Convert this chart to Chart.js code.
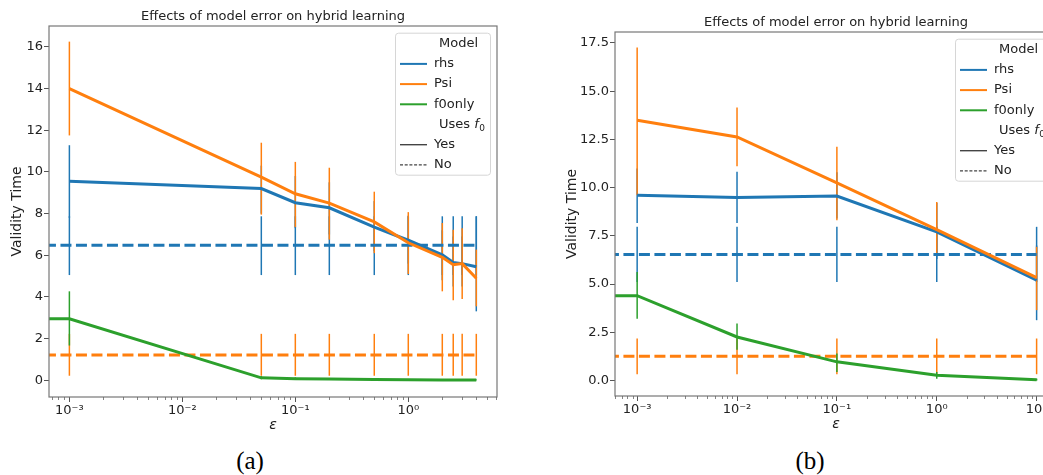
<!DOCTYPE html>
<html>
<head>
<meta charset="utf-8">
<script src="https://cdn.jsdelivr.net/npm/chart.js@4.4.0/dist/chart.umd.min.js"></script>
<style>
  html, body { margin: 0; padding: 0; background: #fff; overflow: hidden; width: 1043px; height: 475px; }
  .wrap { position: absolute; top: 0; width: 520px; height: 440px; }
  .cap { position: absolute; top: 447px; font-family: "Liberation Serif", "DejaVu Serif", serif; font-size: 25px; color: #000; transform: translateX(-50%); white-space: nowrap; }
</style>
</head>
<body>
<div class="wrap" style="left:0"><canvas id="chartA" width="520" height="440"></canvas></div>
<div class="wrap" style="left:560px"><canvas id="chartB" width="520" height="440"></canvas></div>
<div class="cap" style="left:250px">(a)</div>
<div class="cap" style="left:810px">(b)</div>
<script>
// eps = 0 can't sit on a log axis, it is pushed off the left edge (like matplotlib clipping)
const EPS_ZERO = 1e-5;

// ---- panel (a) ----
const epsA = [0.001, 0.05, 0.1, 0.2, 0.5, 1, 2, 2.5, 3, 4];
const rhsA = [9.55, 9.2, 8.52, 8.28, 7.35, 6.72, 6.02, 5.65, 5.6, 5.45];
const rhsLoA = [7.8, 8.0, 7.3, 7.0, 6.2, 5.6, 4.8, 4.5, 4.5, 3.31];
const rhsHiA = [11.28, 10.3, 9.8, 9.5, 8.6, 7.9, 7.2, 6.9, 6.9, 7.87];
const psiA = [14.0, 9.75, 8.95, 8.5, 7.6, 6.6, 5.9, 5.55, 5.6, 4.9];
const psiLoA = [11.75, 7.95, 7.35, 6.75, 6.1, 5.1, 4.27, 3.84, 3.9, 3.55];
const psiHiA = [16.25, 11.4, 10.48, 10.2, 9.05, 8.07, 7.55, 7.23, 7.3, 6.27];
const epsNoA = [0, 0.001, 0.05, 0.1, 0.2, 0.5, 1, 2, 2.5, 3, 4];
const f0A = [2.95, 2.95, 0.12, 0.08, 0.06, 0.04, 0.03, 0.02, 0.02, 0.02, 0.01];
const f0LoA = [1.67, 1.67, 0.05, 0.03, 0.02, 0.01, 0.0, 0.0, 0.0, 0.0, 0.0];
const f0HiA = [4.27, 4.27, 0.2, 0.14, 0.11, 0.08, 0.06, 0.05, 0.05, 0.05, 0.04];
const rhsNoA = [6.48, 6.48, 6.48, 6.48, 6.48, 6.48, 6.48, 6.48, 6.48, 6.48, 6.48];
const rhsNoLoA = [5.05, 5.05, 5.05, 5.05, 5.05, 5.05, 5.05, 5.05, 5.05, 5.05, 5.05];
const rhsNoHiA = [7.87, 7.87, 7.87, 7.87, 7.87, 7.87, 7.87, 7.87, 7.87, 7.87, 7.87];
const psiNoA = [1.22, 1.22, 1.22, 1.22, 1.22, 1.22, 1.22, 1.22, 1.22, 1.22, 1.22];
const psiNoLoA = [0.22, 0.22, 0.22, 0.22, 0.22, 0.22, 0.22, 0.22, 0.22, 0.22, 0.22];
const psiNoHiA = [2.23, 2.23, 2.23, 2.23, 2.23, 2.23, 2.23, 2.23, 2.23, 2.23, 2.23];

// ---- panel (b) ----
const epsB = [0.001, 0.01, 0.1, 1, 10];
const rhsB = [9.61, 9.49, 9.57, 7.71, 5.2];
const rhsLoB = [8.17, 8.17, 8.4, 6.3, 3.13];
const rhsHiB = [11.0, 10.82, 10.8, 9.2, 7.0];
const psiB = [13.5, 12.63, 10.25, 7.83, 5.34];
const psiLoB = [9.61, 11.11, 8.31, 6.6, 3.65];
const psiHiB = [17.27, 14.16, 12.12, 9.26, 6.93];
const epsNoB = [0, 0.001, 0.01, 0.1, 1, 10];
const f0B = [4.4, 4.4, 2.26, 0.97, 0.27, 0.04];
const f0LoB = [3.2, 3.2, 1.6, 0.45, 0.1, 0.0];
const f0HiB = [5.63, 5.63, 2.96, 1.4, 0.45, 0.1];
const rhsNoB = [6.53, 6.53, 6.53, 6.53, 6.53, 6.53];
const rhsNoLoB = [5.11, 5.11, 5.11, 5.11, 5.11, 5.11];
const rhsNoHiB = [7.97, 7.97, 7.97, 7.97, 7.97, 7.97];
const psiNoB = [1.26, 1.26, 1.26, 1.26, 1.26, 1.26];
const psiNoLoB = [0.33, 0.33, 0.33, 0.33, 0.33, 0.33];
const psiNoHiB = [2.18, 2.18, 2.18, 2.18, 2.18, 2.18];

const TITLE = 'Effects of model error on hybrid learning';
const BLUE = '#1f77b4', ORANGE = '#ff7f0e', GREEN = '#2ca02c';
const FONT = '"DejaVu Sans", sans-serif';

const SUP = { '-': '\u207B', '0': '\u2070', '1': '\u00B9', '2': '\u00B2', '3': '\u00B3', '4': '\u2074' };

function isPow10(v) {
  const l = Math.log10(v);
  return Math.abs(l - Math.round(l)) < 1e-9;
}

function pts(xs, ys) {
  return xs.map((x, i) => ({ x: x === 0 ? EPS_ZERO : x, y: ys[i] }));
}

// vertical error bars drawn under the lines
const errorBars = {
  id: 'errorBars',
  beforeDatasetsDraw(chart) {
    const { ctx, chartArea: a, scales: { x, y } } = chart;
    ctx.save();
    ctx.beginPath();
    ctx.rect(a.left, a.top, a.right - a.left, a.bottom - a.top);
    ctx.clip();
    ctx.lineWidth = 1.5;
    chart.data.datasets.forEach(ds => {
      if (!ds.errLo) return;
      ctx.strokeStyle = ds.borderColor;
      ds.data.forEach((p, i) => {
        const px = x.getPixelForValue(p.x);
        ctx.beginPath();
        ctx.moveTo(px, y.getPixelForValue(ds.errLo[i]));
        ctx.lineTo(px, y.getPixelForValue(ds.errHi[i]));
        ctx.stroke();
      });
    });
    ctx.restore();
  }
};

function drawLegend(ctx, a) {
  const w = 95, h = 142;
  const left = a.right - 102, top = a.top + 6.7;
  ctx.save();
  ctx.fillStyle = 'rgba(255,255,255,0.85)';
  ctx.strokeStyle = '#d6d6d6';
  ctx.lineWidth = 1;
  ctx.beginPath();
  ctx.roundRect(left + 0.5, top + 0.5, w, h, 3);
  ctx.fill();
  ctx.stroke();

  const rows = [
    { label: 'Model', header: true },
    { label: 'rhs', color: BLUE, width: 2 },
    { label: 'Psi', color: ORANGE, width: 2 },
    { label: 'f0only', color: GREEN, width: 2 },
    { label: 'Uses ', header: true, sub: true },
    { label: 'Yes', color: '#444', width: 1.4 },
    { label: 'No', color: '#444', width: 1.2, dash: [3, 1.7] }
  ];
  ctx.textBaseline = 'middle';
  ctx.textAlign = 'left';
  rows.forEach((r, i) => {
    const cy = top + 11 + i * 20.2;
    ctx.fillStyle = '#222';
    ctx.font = '13px ' + FONT;
    if (r.header) {
      ctx.fillText(r.label, left + 44, cy);
      if (r.sub) {
        const tx = left + 44 + ctx.measureText(r.label).width;
        ctx.font = 'italic 13px ' + FONT;
        ctx.fillText('f', tx, cy);
        const fw = ctx.measureText('f').width;
        ctx.font = '9px ' + FONT;
        ctx.fillText('0', tx + fw + 0.5, cy + 4);
      }
      return;
    }
    ctx.strokeStyle = r.color;
    ctx.lineWidth = r.width;
    ctx.setLineDash(r.dash || []);
    ctx.beginPath();
    ctx.moveTo(left + 5, cy);
    ctx.lineTo(left + 32, cy);
    ctx.stroke();
    ctx.setLineDash([]);
    ctx.fillText(r.label, left + 39, cy);
  });
  ctx.restore();
}

// frame, minor ticks, titles and the legend
const decor = {
  id: 'decor',
  afterDraw(chart, args, opts) {
    const { ctx, chartArea: a, scales: { x } } = chart;
    ctx.save();
    ctx.strokeStyle = '#777';
    ctx.lineWidth = 1.2;
    ctx.strokeRect(a.left, a.top, a.right - a.left, a.bottom - a.top);

    ctx.strokeStyle = '#666';
    ctx.lineWidth = 0.8;
    x.ticks.forEach(t => {
      if (isPow10(t.value)) return;
      const px = Math.round(x.getPixelForValue(t.value)) + 0.5;
      ctx.beginPath();
      ctx.moveTo(px, a.bottom);
      ctx.lineTo(px, a.bottom + 3);
      ctx.stroke();
    });

    ctx.fillStyle = '#222';
    ctx.textAlign = 'center';
    ctx.textBaseline = 'middle';
    ctx.font = '13px ' + FONT;
    ctx.fillText(TITLE, (a.left + a.right) / 2, a.top - 9.5);

    ctx.font = 'italic 14px ' + FONT;
    ctx.fillText('\u03B5', (a.left + a.right) / 2, a.bottom + 28.5);

    ctx.translate(a.left - opts.yTitleOffset, (a.top + a.bottom) / 2);
    ctx.rotate(-Math.PI / 2);
    ctx.font = '14px ' + FONT;
    ctx.fillText('Validity Time', 0, 0);
    ctx.restore();

    drawLegend(ctx, a);
  }
};

function makeChart(id, cfg) {
  const datasets = [
    { label: 'rhs', data: pts(cfg.eps, cfg.rhs), errLo: cfg.rhsLo, errHi: cfg.rhsHi, borderColor: BLUE, order: 1 },
    { label: 'rhs no', data: pts(cfg.epsNo, cfg.rhsNo), errLo: cfg.rhsNoLo, errHi: cfg.rhsNoHi, borderColor: BLUE, borderDash: [11, 4.5], order: 4 },
    { label: 'Psi', data: pts(cfg.eps, cfg.psi), errLo: cfg.psiLo, errHi: cfg.psiHi, borderColor: ORANGE, order: 0 },
    { label: 'Psi no', data: pts(cfg.epsNo, cfg.psiNo), errLo: cfg.psiNoLo, errHi: cfg.psiNoHi, borderColor: ORANGE, borderDash: [11, 4.5], order: 3 },
    { label: 'f0only', data: pts(cfg.epsNo, cfg.f0), errLo: cfg.f0Lo, errHi: cfg.f0Hi, borderColor: GREEN, order: 2 }
  ];
  datasets.forEach(d => {
    d.borderWidth = 3;
    d.pointRadius = 0;
    d.tension = 0;
    d.fill = false;
    d.clip = 0;
  });

  return new Chart(document.getElementById(id), {
    type: 'line',
    data: { datasets: datasets },
    options: {
      responsive: false,
      animation: false,
      events: [],
      layout: { padding: { top: cfg.padTop, right: 23, left: 0, bottom: 0 } },
      plugins: {
        legend: { display: false },
        tooltip: { enabled: false },
        decor: { yTitleOffset: cfg.yTitleOffset }
      },
      scales: {
        x: {
          type: 'logarithmic',
          min: cfg.xMin,
          max: cfg.xMax,
          afterBuildTicks: scale => {
            const ticks = [];
            for (let e = -4; e <= 1; e++) {
              for (let m = 1; m <= 9; m++) {
                const v = m * Math.pow(10, e);
                if (v >= scale.min && v <= scale.max) ticks.push({ value: v });
              }
            }
            scale.ticks = ticks;
          },
          afterFit: scale => { scale.height = cfg.xHeight; },
          grid: {
            drawOnChartArea: false,
            tickLength: 5,
            tickColor: c => (c.tick && isPow10(c.tick.value)) ? '#555' : 'rgba(0,0,0,0)'
          },
          border: { display: false },
          ticks: {
            autoSkip: false,
            maxRotation: 0,
            padding: 1,
            color: '#222',
            font: { family: FONT, size: 13 },
            callback: v => {
              if (!isPow10(v)) return '';
              const e = String(Math.round(Math.log10(v)));
              return '10' + e.split('').map(ch => SUP[ch]).join('');
            }
          }
        },
        y: {
          min: cfg.yMin,
          max: cfg.yMax,
          afterFit: scale => { scale.width = cfg.yWidth; },
          grid: { drawOnChartArea: false, tickLength: 5, tickColor: '#555' },
          border: { display: false },
          ticks: {
            stepSize: cfg.yStep,
            includeBounds: false,
            padding: 1,
            color: '#222',
            font: { family: FONT, size: 13 },
            callback: v => cfg.yStep % 1 ? v.toFixed(1) : String(v)
          }
        }
      }
    },
    plugins: [errorBars, decor]
  });
}

makeChart('chartA', {
  eps: epsA, epsNo: epsNoA,
  rhs: rhsA, rhsLo: rhsLoA, rhsHi: rhsHiA,
  psi: psiA, psiLo: psiLoA, psiHi: psiHiA,
  f0: f0A, f0Lo: f0LoA, f0Hi: f0HiA,
  rhsNo: rhsNoA, rhsNoLo: rhsNoLoA, rhsNoHi: rhsNoHiA,
  psiNo: psiNoA, psiNoLo: psiNoLoA, psiNoHi: psiNoHiA,
  xMin: 6.6e-4, xMax: 6.1, yMin: -0.8, yMax: 17.0, yStep: 2,
  padTop: 26, yWidth: 49, xHeight: 43, yTitleOffset: 32
});

makeChart('chartB', {
  eps: epsB, epsNo: epsNoB,
  rhs: rhsB, rhsLo: rhsLoB, rhsHi: rhsHiB,
  psi: psiB, psiLo: psiLoB, psiHi: psiHiB,
  f0: f0B, f0Lo: f0LoB, f0Hi: f0HiB,
  rhsNo: rhsNoB, rhsNoLo: rhsNoLoB, rhsNoHi: rhsNoHiB,
  psiNo: psiNoB, psiNoLo: psiNoLoB, psiNoHi: psiNoHiB,
  xMin: 6.26e-4, xMax: 16, yMin: -0.8, yMax: 18.07, yStep: 2.5,
  padTop: 32, yWidth: 55, xHeight: 44, yTitleOffset: 43
});
</script>
</body>
</html>
